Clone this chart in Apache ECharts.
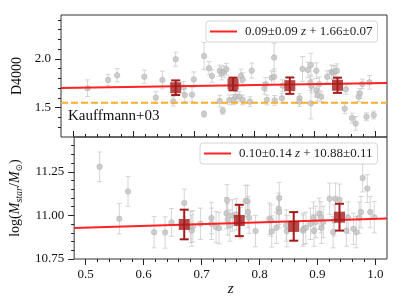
<!DOCTYPE html>
<html><head><meta charset="utf-8">
<script src="https://cdn.jsdelivr.net/npm/echarts@6/dist/echarts.min.js"></script>
<style>html,body{margin:0;padding:0;background:#fff}#c{width:407px;height:305px}</style>
</head><body><div id="c"></div>
<script>
// ---- data ----
const topZ = [0.524,0.558,0.573,0.618,0.637,0.648,0.666,0.670,0.683,0.685,0.697,0.700,0.717,0.717,0.725,0.730,0.743,0.743,0.746,0.748,0.750,0.754,0.759,0.766,0.769,0.775,0.781,0.778,0.781,0.796,0.793,0.817,0.819,0.821,0.829,0.833,0.833,0.834,0.846,0.847,0.875,0.875,0.880,0.889,0.894,0.893,0.895,0.894,0.903,0.903,0.905,0.908,0.911,0.921,0.928,0.931,0.934,0.937,0.952,0.950,0.962,0.968,0.973,0.975,0.979,0.986,0.991,0.998];
const topD = [1.700,1.784,1.832,1.818,1.603,1.784,1.565,1.997,1.709,1.630,1.634,1.790,2.030,1.435,1.904,1.825,1.568,1.880,1.853,1.469,1.870,1.894,1.580,1.582,1.613,1.613,1.580,1.825,1.790,1.880,1.562,1.700,1.740,1.580,1.808,1.818,2.014,1.575,1.596,1.726,1.596,1.562,1.897,1.887,1.938,1.757,1.723,1.545,1.880,1.680,1.630,1.743,1.613,1.818,1.866,1.860,1.870,1.880,1.688,1.490,1.394,1.339,1.613,1.647,1.743,1.407,1.760,1.425];
const topErr = [0.085,0.057,0.068,0.068,0.060,0.090,0.048,0.072,0.060,0.068,0.072,0.077,0.140,0.030,0.068,0.065,0.060,0.057,0.068,0.035,0.060,0.060,0.050,0.050,0.050,0.050,0.050,0.070,0.070,0.077,0.050,0.060,0.070,0.050,0.070,0.080,0.145,0.050,0.050,0.060,0.050,0.050,0.127,0.080,0.120,0.080,0.070,0.160,0.080,0.070,0.060,0.070,0.050,0.060,0.070,0.070,0.060,0.070,0.050,0.050,0.050,0.070,0.050,0.050,0.050,0.040,0.070,0.040];

const botZ = [0.524,0.558,0.573,0.618,0.637,0.648,0.670,0.681,0.683,0.685,0.698,0.717,0.717,0.725,0.730,0.743,0.744,0.745,0.749,0.753,0.760,0.767,0.776,0.779,0.780,0.782,0.793,0.817,0.820,0.821,0.829,0.834,0.833,0.834,0.846,0.847,0.875,0.876,0.880,0.888,0.893,0.894,0.897,0.903,0.906,0.907,0.910,0.921,0.927,0.929,0.931,0.938,0.950,0.953,0.962,0.967,0.972,0.975,0.978,0.986,0.991,0.998];
const botM = [11.279,10.981,11.138,10.904,10.902,10.960,11.071,10.933,10.913,10.938,10.952,10.985,10.952,10.933,10.927,11.013,11.087,10.977,10.942,11.000,11.006,10.956,11.083,11.083,11.019,10.987,10.910,10.981,10.971,10.908,10.929,11.100,11.038,11.019,10.942,10.910,10.913,10.923,10.929,10.952,10.987,10.913,10.962,11.010,10.990,10.929,10.962,11.096,10.904,10.971,11.096,11.090,10.913,10.987,10.923,10.904,10.987,11.019,11.215,11.154,11.019,10.990];
const botErr = [0.085,0.087,0.085,0.090,0.090,0.080,0.080,0.090,0.090,0.090,0.090,0.090,0.090,0.090,0.090,0.090,0.090,0.090,0.090,0.090,0.090,0.090,0.090,0.090,0.090,0.090,0.090,0.090,0.090,0.090,0.090,0.090,0.090,0.090,0.090,0.090,0.090,0.090,0.090,0.090,0.090,0.090,0.090,0.090,0.090,0.090,0.090,0.090,0.090,0.090,0.090,0.090,0.090,0.090,0.090,0.090,0.090,0.090,0.080,0.080,0.090,0.090];

const binZ = [0.670,0.765,0.859,0.938];
const binD = [1.705,1.743,1.726,1.730];
const binDErr = [0.075,0.065,0.084,0.078];
const binM = [10.948,10.971,10.937,10.990];
const binMErr = [0.085,0.090,0.082,0.077];

const fitX = [0.48,1.02];
const fitTopY = [1.703,1.752];
const fitBotY = [10.928,10.982];
const kauffX = [0.48,1.02];
const kauffY = [1.55,1.55];

const fitTopLabel = ['0.09±0.09','1.66±0.07'];
const fitBotLabel = ['0.10±0.14','10.88±0.11'];

const xMajor = [0.5,0.6,0.7,0.8,0.9,1.0];
const xMinor = [0.5,0.52,0.54,0.56,0.58,0.6,0.62,0.64,0.66,0.68,0.7,0.72,0.74,0.76,0.78,0.8,0.82,0.84,0.86,0.88,0.9,0.92,0.94,0.96,0.98,1.0];
const dMajor = [1.5,2.0];
const dMinor = [1.3,1.4,1.5,1.6,1.7,1.8,1.9,2.0,2.1,2.2,2.3,2.4];
const mMajor = [10.75,11.0,11.25];
const mMinor = [10.8,10.85,10.9,10.95,11.0,11.05,11.1,11.15,11.2,11.25,11.3,11.35,11.4];

// ---- chart ----
const FONT = 'Liberation Serif';
const chart = echarts.init(document.getElementById('c'), null, {renderer:'canvas'});

function errRender(capHalf, color, width){
  return function(params, api){
    const x = api.value(0), y = api.value(1), e = api.value(2);
    const lo = api.coord([x, y - e]), hi = api.coord([x, y + e]);
    const st = {stroke: color, lineWidth: width};
    return {type:'group', children:[
      {type:'line', shape:{x1:lo[0],y1:lo[1],x2:hi[0],y2:hi[1]}, style:st},
      {type:'line', shape:{x1:lo[0]-capHalf,y1:lo[1],x2:lo[0]+capHalf,y2:lo[1]}, style:st},
      {type:'line', shape:{x1:hi[0]-capHalf,y1:hi[1],x2:hi[0]+capHalf,y2:hi[1]}, style:st}
    ]};
  };
}
function zipr(a,b,c){ return a.map((v,i)=> c ? [v,b[i],c[i]] : [v,b[i]]); }

const nameTop = fitTopLabel[0] + ' z + ' + fitTopLabel[1];
const nameBot = fitBotLabel[0] + ' z + ' + fitBotLabel[1];

function xAx(grid, major, inside, showLabel, name){
  return {
    type:'value', gridIndex:grid, min:0.48, max:1.02, position:'bottom',
    axisLine:{show:false}, splitLine:{show:false},
    axisTick:{show:true, inside:inside, length: major ? 6 : 3, customValues: major ? xMajor : xMinor,
      lineStyle:{color:'#222', width:1}},
    axisLabel:{show:showLabel, customValues:xMajor, formatter:v=>v.toFixed(1), margin:9,
      fontFamily:FONT, fontSize:13, color:'#111', showMinLabel:true, showMaxLabel:true},
    name: name || '', nameLocation:'middle', nameGap:21,
    nameTextStyle:{fontFamily:FONT, fontSize:15, fontStyle:'italic', color:'#111'}
  };
}
function yAx(grid, min, max, ticks, len, labels, fmt, name, nameGap, rich){
  return {
    type:'value', gridIndex:grid, min:min, max:max, position:'left',
    axisLine:{show:false}, splitLine:{show:false},
    axisTick:{show:true, inside:false, length:len, customValues:ticks, lineStyle:{color:'#222', width:1}},
    axisLabel:{show: !!labels, customValues: labels || ticks, formatter:v=>v.toFixed(fmt), margin:10,
      fontFamily:FONT, fontSize:13, color:'#111', showMinLabel:true, showMaxLabel:true},
    name: name || '', nameLocation:'middle', nameGap:nameGap || 0,
    nameTextStyle:{fontFamily:FONT, fontSize:14, color:'#111', rich: rich}
  };
}

const richName = {
  n:{fontFamily:FONT, fontSize:14, color:'#111', lineHeight:18},
  i:{fontFamily:FONT, fontSize:14, fontStyle:'italic', color:'#111', lineHeight:18},
  s:{fontFamily:FONT, fontSize:10, fontStyle:'italic', color:'#111', verticalAlign:'bottom', lineHeight:18},
  o:{fontFamily:'DejaVu Serif', fontSize:9, color:'#111', verticalAlign:'bottom', lineHeight:18}
};

const legendRich = {
  a:{fontFamily:FONT, fontSize:13, color:'#222', padding:[0,0,0,3]},
  b:{fontFamily:FONT, fontSize:13, fontStyle:'italic', color:'#222'},
  c:{fontFamily:FONT, fontSize:13, color:'#222'}
};
function legendFmt(name){
  const parts = name.split(' z ');
  return '{a|' + parts[0] + ' }{b|z}{c| ' + parts[1] + '}';
}
function legendCfg(left, top, name){
  return {
    data:[name], left:left, top:top, orient:'horizontal',
    icon:'rect', itemWidth:27, itemHeight:2,
    padding:[4,5,4,4], borderColor:'#d6d6d6', borderWidth:1, borderRadius:3,
    backgroundColor:'rgba(255,255,255,0.85)',
    textStyle:{fontFamily:FONT, fontSize:13, color:'#222', rich:legendRich},
    formatter: legendFmt, selectedMode:false
  };
}

const greyErrColor = 'rgba(200,200,200,0.75)';
const redDark = '#a51b1b';

const option = {
  animation:false,
  backgroundColor:'#fff',
  textStyle:{fontFamily:FONT},
  grid:[
    {left:61, right:20, top:15, height:122, show:true, borderColor:'#333', borderWidth:1, backgroundColor:'transparent'},
    {left:61, right:20, top:137, height:122, show:true, borderColor:'#333', borderWidth:1, backgroundColor:'transparent'}
  ],
  legend:[ legendCfg(206, 21, nameTop), legendCfg(200, 143, nameBot) ],
  xAxis:[
    xAx(0, true, true, false),
    xAx(0, false, true, false),
    xAx(1, true, false, true, 'z'),
    xAx(1, false, false, false)
  ],
  yAxis:[
    yAx(0, 1.2, 2.45, dMajor, 6, dMajor, 1, 'D4000', 27),
    yAx(0, 1.2, 2.45, dMinor, 3, null, 1),
    yAx(1, 10.75, 11.45, mMajor, 6, mMajor, 2, '{n|log(}{i|M}{s|star}{n|/}{i|M}{o|⊙}{n|)}', 40, richName),
    yAx(1, 10.75, 11.45, mMinor, 3, null, 2)
  ],
  series:[
    // top panel
    {type:'custom', xAxisIndex:0, yAxisIndex:0, z:1, data:zipr(topZ, topD, topErr), encode:{x:0,y:1},
      renderItem: errRender(2.5, greyErrColor, 1), silent:true},
    {type:'scatter', xAxisIndex:0, yAxisIndex:0, z:2, data:zipr(topZ, topD), symbol:'circle', symbolSize:5.5,
      itemStyle:{color:'#c3c3c3', borderColor:'#ababab', borderWidth:0.6}, silent:true},
    {type:'line', name:nameTop, xAxisIndex:0, yAxisIndex:0, z:3, data:zipr(fitX, fitTopY), showSymbol:false,
      symbol:'none', lineStyle:{color:'#ff2222', width:2}, itemStyle:{color:'#ff2222'}, silent:true},
    {type:'line', xAxisIndex:0, yAxisIndex:0, z:3, data:zipr(kauffX, kauffY), showSymbol:false, symbol:'none',
      lineStyle:{color:'#ffad2a', width:2, type:[7,3]}, silent:true},
    {type:'custom', xAxisIndex:0, yAxisIndex:0, z:4, data:zipr(binZ, binD, binDErr), encode:{x:0,y:1},
      renderItem: errRender(4.5, redDark, 2), silent:true},
    {type:'scatter', xAxisIndex:0, yAxisIndex:0, z:5, data:zipr(binZ, binD), symbol:'rect', symbolSize:11,
      itemStyle:{color:redDark}, silent:true},
    // bottom panel
    {type:'custom', xAxisIndex:2, yAxisIndex:2, z:1, data:zipr(botZ, botM, botErr), encode:{x:0,y:1},
      renderItem: errRender(2.5, greyErrColor, 1), silent:true},
    {type:'scatter', xAxisIndex:2, yAxisIndex:2, z:2, data:zipr(botZ, botM), symbol:'circle', symbolSize:5.5,
      itemStyle:{color:'#c3c3c3', borderColor:'#ababab', borderWidth:0.6}, silent:true},
    {type:'line', name:nameBot, xAxisIndex:2, yAxisIndex:2, z:3, data:zipr(fitX, fitBotY), showSymbol:false,
      symbol:'none', lineStyle:{color:'#ff2222', width:2}, itemStyle:{color:'#ff2222'}, silent:true},
    {type:'custom', xAxisIndex:2, yAxisIndex:2, z:4, data:zipr(binZ, binM, binMErr), encode:{x:0,y:1},
      renderItem: errRender(4.5, redDark, 2), silent:true},
    {type:'scatter', xAxisIndex:2, yAxisIndex:2, z:5, data:zipr(binZ, binM), symbol:'rect', symbolSize:11,
      itemStyle:{color:redDark}, silent:true}
  ],
  graphic:[
    {type:'text', left:68, top:109, z:10, style:{text:'Kauffmann+03', font:'15px "Liberation Serif"', fill:'#111'}}
  ]
};
chart.setOption(option);
</script>
</body></html>
